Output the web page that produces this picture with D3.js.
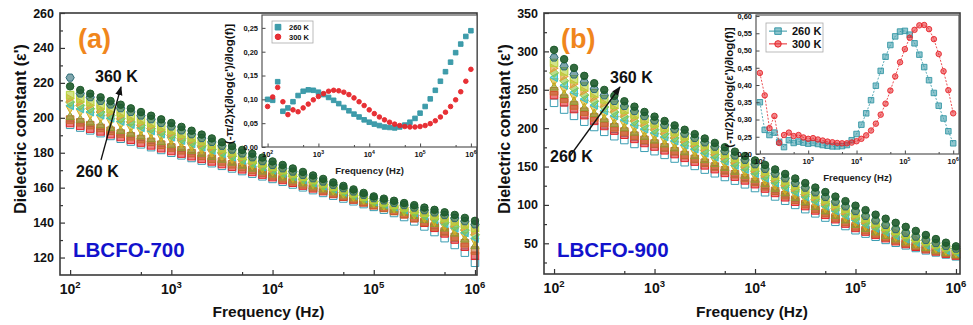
<!DOCTYPE html>
<html>
<head>
<meta charset="utf-8">
<script src="https://cdn.jsdelivr.net/npm/d3@7"></script>
<style>
body { margin: 0; background: #fff; }
svg text { font-family: "Liberation Sans", Arial, Helvetica, sans-serif; font-weight: bold; }
</style>
</head>
<body>
<div id="chart"></div>
<script>
// ---- data ----
const freq = [100, 126, 158, 200, 251, 316, 398, 501, 631, 794,
  1000, 1259, 1585, 1995, 2512, 3162, 3981, 5012, 6310, 7943,
  10000, 12589, 15849, 19953, 25119, 31623, 39811, 50119, 63096, 79433,
  100000, 125893, 158489, 199526, 251189, 316228, 398107, 501187, 630957, 794328,
  1000000];

const temps = ['260 K', '270 K', '280 K', '290 K', '300 K', '310 K', '320 K', '330 K', '340 K', '350 K', '360 K'];

// (a) LBCFO-700, dielectric constant
const a260 = [196, 194.4, 192.8, 191.2, 189.6, 188, 186.4, 184.8, 183.2, 181.6, 180, 178.5, 177, 175.5, 174, 172.5, 171, 169.5, 168, 166.5, 165, 163.4, 161.8, 160.2, 158.6, 157, 155.4, 153.8, 152.2, 150.6, 149, 147.4, 145.5, 143.2, 140.7, 137.8, 134.6, 131.1, 127.2, 122.8, 117];
const a270 = [197, 195.4, 193.8, 192.2, 190.6, 189, 187.4, 185.8, 184.2, 182.6, 181, 179.5, 178, 176.5, 175, 173.5, 172, 170.5, 169, 167.5, 166, 164.4, 162.8, 161.2, 159.6, 158, 156.4, 154.8, 153.2, 151.6, 150, 148.6, 146.8, 144.8, 142.5, 139.9, 137, 133.8, 130.3, 126.2, 121];
const a280 = [199, 197.4, 195.8, 194.2, 192.6, 191, 189.4, 187.8, 186.2, 184.6, 183, 181.4, 179.8, 178.2, 176.6, 175, 173.4, 171.8, 170.2, 168.6, 167, 165.3, 163.6, 161.9, 160.2, 158.5, 156.8, 155.1, 153.4, 151.7, 150, 148.4, 146.6, 144.8, 142.7, 140.4, 137.8, 134.9, 131.8, 128.2, 124];
const a290 = [201, 199.4, 197.8, 196.2, 194.6, 193, 191.4, 189.8, 188.2, 186.6, 185, 183.3, 181.6, 179.9, 178.2, 176.5, 174.8, 173.1, 171.4, 169.7, 168, 166.3, 164.6, 162.9, 161.2, 159.5, 157.8, 156.1, 154.4, 152.7, 151, 149.6, 147.9, 146.2, 144.3, 142.1, 139.7, 137.1, 134.2, 130.8, 127];
const a300 = [205, 203.2, 201.4, 199.6, 197.8, 196, 194.2, 192.4, 190.6, 188.8, 187, 185.2, 183.4, 181.6, 179.8, 178, 176.2, 174.4, 172.6, 170.8, 169, 167.2, 165.4, 163.6, 161.8, 160, 158.2, 156.4, 154.6, 152.8, 151, 149.5, 147.9, 146.2, 144.4, 142.4, 140.2, 137.8, 135.2, 132.3, 129];
const a310 = [207, 205.2, 203.4, 201.6, 199.8, 198, 196.2, 194.4, 192.6, 190.8, 189, 187.1, 185.2, 183.3, 181.4, 179.5, 177.6, 175.7, 173.8, 171.9, 170, 168.2, 166.4, 164.6, 162.8, 161, 159.2, 157.4, 155.6, 153.8, 152, 150.5, 149.1, 147.4, 145.7, 143.8, 141.7, 139.4, 136.9, 134.2, 131];
const a320 = [209, 207.1, 205.2, 203.3, 201.4, 199.5, 197.6, 195.7, 193.8, 191.9, 190, 188, 186, 184, 182, 180, 178, 176, 174, 172, 170, 168.2, 166.4, 164.6, 162.8, 161, 159.2, 157.4, 155.6, 153.8, 152, 150.5, 149, 147.4, 145.7, 144, 142.1, 140.2, 137.9, 135.7, 133];
const a330 = [211, 209, 207, 205, 203, 201, 199, 197, 195, 193, 191, 189, 187, 185, 183, 181, 179, 177, 175, 173, 171, 169.2, 167.4, 165.6, 163.8, 162, 160.2, 158.4, 156.6, 154.8, 153, 151.6, 150.1, 148.7, 147.1, 145.4, 143.6, 141.8, 139.7, 137.5, 135];
const a340 = [213, 211, 209, 207, 205, 203, 201, 199, 197, 195, 193, 190.9, 188.8, 186.7, 184.6, 182.5, 180.4, 178.3, 176.2, 174.1, 172, 170.1, 168.2, 166.3, 164.4, 162.5, 160.6, 158.7, 156.8, 154.9, 153, 151.6, 150.1, 148.7, 147.2, 145.6, 144.2, 142.6, 140.8, 138.9, 137];
const a350 = [223, 213.9, 211.8, 209.7, 207.6, 205.5, 203.4, 201.3, 199.2, 197.1, 195, 192.8, 190.6, 188.4, 186.2, 184, 181.8, 179.6, 177.4, 175.2, 173, 171.1, 169.2, 167.3, 165.4, 163.5, 161.6, 159.7, 157.8, 155.9, 154, 152.7, 151.3, 150, 148.6, 147.1, 145.8, 144.3, 142.6, 140.8, 139];
const a360 = [218, 215.9, 213.8, 211.7, 209.6, 207.5, 205.4, 203.3, 201.2, 199.1, 197, 194.8, 192.6, 190.4, 188.2, 186, 183.8, 181.6, 179.4, 177.2, 175, 173, 171, 169, 167, 165, 163, 161, 159, 157, 155, 153.7, 152.5, 151.2, 150, 148.6, 147.3, 145.9, 144.4, 142.7, 141];

// (b) LBCFO-900, dielectric constant
const b260 = [233, 224.2, 216, 208.4, 201.5, 195.2, 189.5, 184.5, 179.4, 174.4, 170, 165.2, 160.4, 155.6, 150.8, 146, 141.2, 136.4, 131.6, 126.8, 122, 116.5, 111, 105.5, 100, 94.5, 89, 83.5, 78, 72.5, 67, 62.6, 58.5, 54.4, 50.7, 47.3, 43.9, 40.8, 38.1, 35.4, 33];
const b270 = [243, 233.6, 224.9, 216.9, 209.5, 202.8, 196.8, 191.4, 186, 180.7, 176, 171.1, 166.2, 161.3, 156.4, 151.5, 146.6, 141.7, 136.8, 131.9, 127, 121.3, 115.6, 109.9, 104.2, 98.5, 92.8, 87.1, 81.4, 75.7, 70, 65.3, 61, 56.7, 52.7, 49.1, 45.5, 42.3, 39.4, 36.5, 34];
const b280 = [248, 238.5, 229.6, 221.5, 214, 207.2, 201.1, 195.6, 190.2, 184.8, 180, 175, 170, 165, 160, 155, 150, 145, 140, 135, 130, 124.2, 118.4, 112.6, 106.8, 101, 95.2, 89.4, 83.6, 77.8, 72, 67.2, 62.7, 58.3, 54.2, 50.5, 46.8, 43.5, 40.5, 37.6, 35];
const b290 = [254, 244.3, 235.4, 227.1, 219.5, 212.6, 206.4, 200.9, 195.3, 189.8, 185, 179.9, 174.8, 169.7, 164.6, 159.5, 154.4, 149.3, 144.2, 139.1, 134, 128.1, 122.2, 116.3, 110.4, 104.5, 98.6, 92.7, 86.8, 80.9, 75, 69.9, 65.2, 60.6, 56.3, 52.4, 48.5, 45, 41.8, 38.7, 36];
const b300 = [260, 250.1, 240.8, 232.3, 224.5, 217.4, 211, 205.3, 199.6, 194, 189, 183.8, 178.6, 173.4, 168.2, 163, 157.8, 152.6, 147.4, 142.2, 137, 131, 125, 119, 113, 107, 101, 95, 89, 83, 77, 71.8, 67, 62.2, 57.8, 53.8, 49.8, 46.2, 43, 39.8, 37];
const b310 = [266, 255.9, 246.6, 237.9, 230, 222.8, 216.3, 210.6, 204.8, 199, 194, 188.7, 183.4, 178.1, 172.8, 167.5, 162.2, 156.9, 151.6, 146.3, 141, 134.9, 128.8, 122.7, 116.6, 110.5, 104.4, 98.3, 92.2, 86.1, 80, 74.5, 69.5, 64.5, 59.8, 55.6, 51.4, 47.7, 44.3, 40.9, 38];
const b320 = [272, 261.6, 252, 243.1, 235, 227.6, 220.9, 215, 209.1, 203.2, 198, 192.6, 187.2, 181.8, 176.4, 171, 165.6, 160.2, 154.8, 149.4, 144, 137.9, 131.8, 125.7, 119.6, 113.5, 107.4, 101.3, 95.2, 89.1, 83, 77.4, 72.2, 67.1, 62.4, 58.1, 53.8, 49.9, 46.4, 43, 40];
const b330 = [278, 267.4, 257.5, 248.4, 240, 232.4, 225.6, 219.5, 213.4, 207.3, 202, 196.5, 191, 185.5, 180, 174.5, 169, 163.5, 158, 152.5, 147, 140.9, 134.8, 128.7, 122.6, 116.5, 110.4, 104.3, 98.2, 92.1, 86, 80.1, 74.7, 69.3, 64.4, 59.9, 55.4, 51.3, 47.7, 44.1, 41];
const b340 = [285, 273.9, 263.7, 254.2, 245.5, 237.6, 230.5, 224.2, 217.8, 211.5, 206, 200.4, 194.8, 189.2, 183.6, 178, 172.4, 166.8, 161.2, 155.6, 150, 143.9, 137.8, 131.7, 125.6, 119.5, 113.4, 107.3, 101.2, 95.1, 89, 82.9, 77.2, 71.6, 66.4, 61.7, 57, 52.8, 49, 45.3, 42];
const b350 = [292, 280.5, 269.9, 260, 251, 242.8, 235.4, 228.9, 222.3, 215.7, 210, 204.3, 198.6, 192.9, 187.2, 181.5, 175.8, 170.1, 164.4, 158.7, 153, 146.9, 140.8, 134.7, 128.6, 122.5, 116.4, 110.3, 104.2, 98.1, 92, 85.6, 79.7, 73.9, 68.5, 63.6, 58.7, 54.3, 50.3, 46.4, 43];
const b360 = [302, 289.8, 278.5, 268.1, 258.5, 249.8, 242, 235, 228, 221.1, 215, 209.3, 203.6, 197.9, 192.2, 186.5, 180.8, 175.1, 169.4, 163.7, 158, 152.1, 146.2, 140.3, 134.4, 128.5, 122.6, 116.7, 110.8, 104.9, 99, 93.2, 87.3, 82, 76.7, 71.4, 66.1, 60.8, 55.5, 50.8, 46];

// insets: (-pi/2) x dlog(eps')/dlog(f)
const insetA260 = [0.100, 0.098, 0.137, 0.075, 0.082, 0.095, 0.108, 0.117, 0.120, 0.119, 0.115, 0.110, 0.104, 0.098, 0.091, 0.083, 0.076, 0.069, 0.063, 0.057, 0.052, 0.048, 0.045, 0.042, 0.041, 0.040, 0.042, 0.046, 0.052, 0.060, 0.071, 0.085, 0.101, 0.119, 0.138, 0.158, 0.178, 0.198, 0.216, 0.232, 0.244];
const insetA300 = [0.085, 0.105, 0.125, 0.095, 0.068, 0.078, 0.074, 0.082, 0.090, 0.099, 0.106, 0.112, 0.117, 0.119, 0.118, 0.115, 0.110, 0.103, 0.095, 0.087, 0.078, 0.070, 0.063, 0.057, 0.052, 0.048, 0.045, 0.043, 0.042, 0.042, 0.043, 0.045, 0.049, 0.055, 0.063, 0.073, 0.085, 0.099, 0.116, 0.138, 0.163];
const insetB260 = [0.350, 0.270, 0.255, 0.262, 0.235, 0.220, 0.240, 0.232, 0.236, 0.233, 0.230, 0.232, 0.229, 0.226, 0.224, 0.222, 0.222, 0.223, 0.226, 0.240, 0.258, 0.285, 0.318, 0.356, 0.398, 0.441, 0.482, 0.516, 0.541, 0.555, 0.557, 0.546, 0.521, 0.488, 0.452, 0.414, 0.377, 0.340, 0.303, 0.266, 0.231];
const insetB300 = [0.435, 0.370, 0.275, 0.310, 0.232, 0.255, 0.262, 0.252, 0.255, 0.248, 0.244, 0.246, 0.242, 0.239, 0.236, 0.234, 0.232, 0.231, 0.231, 0.233, 0.237, 0.244, 0.254, 0.268, 0.288, 0.314, 0.346, 0.384, 0.425, 0.466, 0.504, 0.537, 0.560, 0.573, 0.574, 0.562, 0.533, 0.490, 0.440, 0.385, 0.318];

const decades = [1e2, 1e3, 1e4, 1e5, 1e6];
const minorX = [5e2, 5e3, 5e4, 5e5];
const ticksA = [120, 140, 160, 180, 200, 220, 240, 260];
const ticksB = [50, 100, 150, 200, 250, 300, 350];
const ticksInsetA = [0, 0.05, 0.10, 0.15, 0.20, 0.25];
const ticksInsetB = [0.20, 0.25, 0.30, 0.35, 0.40, 0.45, 0.50, 0.55, 0.60];
const insetTemps = ['260 K', '300 K'];

// ---- styling ----
const colors = ['#3a9db2', '#e2262a', '#c4682c', '#8f9c32', '#d6b01e', '#34c3d0', '#8cc63e', '#e69a38', '#b4d238', '#2c6b76', '#1d5a2a'];
const shapes = ['square', 'square', 'square', 'triUp', 'triDown', 'triLeft', 'diamond', 'triRight', 'square', 'hexagon', 'circle'];
const teal = '#3597a6', red = '#e6262b';

const svg = d3.select('#chart').append('svg').attr('width', 973).attr('height', 325);
svg.append('defs').append('marker')
  .attr('id', 'arrow').attr('viewBox', '0 0 10 10').attr('refX', 9).attr('refY', 5)
  .attr('markerWidth', 7).attr('markerHeight', 7).attr('orient', 'auto')
  .append('path').attr('d', 'M0,1L10,5L0,9Z').attr('fill', '#111');

function markerPath(kind, s) {
  const h = s / 2;
  switch (kind) {
    case 'square': return `M${-h},${-h}h${s}v${s}h${-s}Z`;
    case 'circle': return d3.symbol(d3.symbolCircle, Math.PI * h * h)();
    case 'triUp': return `M0,${-h * 1.1}L${h * 1.1},${h * 0.9}L${-h * 1.1},${h * 0.9}Z`;
    case 'triDown': return `M0,${h * 1.1}L${h * 1.1},${-h * 0.9}L${-h * 1.1},${-h * 0.9}Z`;
    case 'triLeft': return `M${-h * 1.1},0L${h * 0.9},${-h * 1.1}L${h * 0.9},${h * 1.1}Z`;
    case 'triRight': return `M${h * 1.1},0L${-h * 0.9},${-h * 1.1}L${-h * 0.9},${h * 1.1}Z`;
    case 'diamond': return `M0,${-h * 1.2}L${h * 1.2},0L0,${h * 1.2}L${-h * 1.2},0Z`;
    case 'hexagon': {
      const pts = d3.range(6).map(k => [h * 1.1 * Math.cos(Math.PI / 3 * k), h * 1.1 * Math.sin(Math.PI / 3 * k)]);
      return 'M' + pts.map(p => p.join(',')).join('L') + 'Z';
    }
  }
}

function decadeLabels(g, x, y0, size) {
  decades.forEach(d => {
    const t = g.append('text').attr('x', x(d)).attr('y', y0).attr('text-anchor', 'middle')
      .attr('font-size', size).attr('fill', '#111');
    t.append('tspan').text('10');
    t.append('tspan').attr('font-size', size * 0.68).attr('dy', -size * 0.42).text(Math.log10(d));
  });
}

function styleAxis(sel) {
  sel.select('.domain').remove();
  sel.selectAll('.tick line').attr('stroke', '#333').attr('stroke-width', 1.2);
  sel.selectAll('.tick text').attr('fill', '#111');
}

function mainPanel(p) {
  const x = d3.scaleLog().domain(p.xDomain).range([p.left, p.right]);
  const y = d3.scaleLinear().domain(p.yDomain).range([p.bottom, p.top]);
  const g = svg.append('g');

  p.series.forEach((vals, i) => {
    g.append('g').selectAll('path').data(vals).join('path')
      .attr('transform', (d, j) => `translate(${x(freq[j])},${y(d)})`)
      .attr('d', markerPath(shapes[i], 7.5))
      .attr('fill', i === 0 ? '#fff' : colors[i])
      .attr('fill-opacity', i === 0 ? 1 : (i === 10 ? 0.9 : 0.6))
      .attr('stroke', colors[i]).attr('stroke-width', 1);
  });

  g.append('g').attr('transform', `translate(0,${p.bottom})`)
    .call(d3.axisBottom(x).tickValues(decades).tickSize(-5).tickFormat(''))
    .call(styleAxis);
  g.append('g').attr('transform', `translate(0,${p.bottom})`)
    .call(d3.axisBottom(x).tickValues(minorX).tickSize(-3).tickFormat(''))
    .call(styleAxis);
  g.append('g').attr('transform', `translate(${p.left},0)`)
    .call(d3.axisLeft(y).tickValues(p.ticks).tickSize(-5).tickPadding(6))
    .call(styleAxis)
    .call(s => s.selectAll('.tick text').attr('font-size', 12.5).attr('font-family', null));
  g.append('g').attr('transform', `translate(${p.left},0)`)
    .call(d3.axisLeft(y).tickValues(p.minorY).tickSize(-3).tickFormat(''))
    .call(styleAxis);

  g.append('rect').attr('x', p.left).attr('y', p.top)
    .attr('width', p.right - p.left).attr('height', p.bottom - p.top)
    .attr('fill', 'none').attr('stroke', '#3a3a3a').attr('stroke-width', 1.6);

  decadeLabels(g, x, p.bottom + 19, 14);

  g.append('text').attr('x', (p.left + p.right) / 2).attr('y', 317)
    .attr('text-anchor', 'middle').attr('font-size', 15.5).attr('fill', '#111').text('Frequency (Hz)');
  g.append('text').attr('transform', `translate(${p.left - 34},129) rotate(-90)`)
    .attr('text-anchor', 'middle').attr('font-size', 16).attr('fill', '#111').text('Dielectric constant (ε\')');

  g.append('text').attr('x', p.tag[0]).attr('y', p.tag[1]).attr('font-size', 27)
    .attr('fill', '#f0861c').text(p.tagText);
  g.append('text').attr('x', p.sample[0]).attr('y', p.sample[1]).attr('font-size', 20.5)
    .attr('fill', '#1212cc').text(p.sampleText);
  g.append('text').attr('x', p.hi[0]).attr('y', p.hi[1]).attr('font-size', 16).attr('fill', '#111').text(temps[10]);
  g.append('text').attr('x', p.lo[0]).attr('y', p.lo[1]).attr('font-size', 16).attr('fill', '#111').text(temps[0]);
  g.append('line').attr('x1', p.arrow[0]).attr('y1', p.arrow[1]).attr('x2', p.arrow[2]).attr('y2', p.arrow[3])
    .attr('stroke', '#111').attr('stroke-width', 1.3).attr('marker-end', 'url(#arrow)');
}

function insetPanel(p) {
  const x = d3.scaleLog().domain(p.xDomain).range([p.left, p.right]);
  const y = d3.scaleLinear().domain(p.yDomain).range([p.bottom, p.top]);
  const g = svg.append('g');
  g.append('rect').attr('x', p.left).attr('y', p.top)
    .attr('width', p.right - p.left).attr('height', p.bottom - p.top).attr('fill', '#fff');

  const sets = [
    { vals: p.s260, color: teal, shape: 'square' },
    { vals: p.s300, color: red, shape: 'circle' }
  ];
  sets.forEach(s => {
    if (p.lines) {
      g.append('path').datum(s.vals)
        .attr('d', d3.line().x((d, j) => x(freq[j])).y(d => y(d)))
        .attr('fill', 'none').attr('stroke', s.color).attr('stroke-width', 0.8).attr('stroke-dasharray', '2,1.5');
    }
    g.append('g').selectAll('path').data(s.vals).join('path')
      .attr('transform', (d, j) => `translate(${x(freq[j])},${y(d)})`)
      .attr('d', markerPath(s.shape, p.msize))
      .attr('fill', s.color).attr('fill-opacity', p.lines ? 0.55 : 0.95)
      .attr('stroke', s.color).attr('stroke-width', 0.9);
  });

  g.append('g').attr('transform', `translate(0,${p.bottom})`)
    .call(d3.axisBottom(x).tickValues(decades).tickSize(-3.5).tickFormat(''))
    .call(styleAxis);
  g.append('g').attr('transform', `translate(0,${p.bottom})`)
    .call(d3.axisBottom(x).tickValues(minorX).tickSize(-2).tickFormat(''))
    .call(styleAxis);
  g.append('g').attr('transform', `translate(${p.left},0)`)
    .call(d3.axisLeft(y).tickValues(p.ticks).tickSize(-3.5).tickPadding(4)
      .tickFormat(d => d3.format('.2f')(d).replace('.', ',')))
    .call(styleAxis)
    .call(s => s.selectAll('.tick text').attr('font-size', 7.5).attr('font-family', null));
  g.selectAll('.tick line').attr('stroke-width', 0.9);

  g.append('rect').attr('x', p.left).attr('y', p.top)
    .attr('width', p.right - p.left).attr('height', p.bottom - p.top)
    .attr('fill', 'none').attr('stroke', '#555').attr('stroke-width', 1.2);

  decadeLabels(g, x, p.bottom + 10, 7.5);
  g.append('text').attr('x', (p.left + p.right) / 2).attr('y', p.bottom + 27)
    .attr('text-anchor', 'middle').attr('font-size', 9.5).attr('fill', '#222').text('Frequency (Hz)');
  g.append('text').attr('transform', `translate(${p.ytitleX},${(p.top + p.bottom) / 2 + 3}) rotate(-90)`)
    .attr('text-anchor', 'middle').attr('font-size', p.ytitleSize).attr('fill', '#111')
    .text('(-π/2)x[∂log(ε\')/∂log(f)]');

  // legend
  const L = p.legend;
  g.append('rect').attr('x', L.x).attr('y', L.y).attr('width', L.w).attr('height', L.h)
    .attr('fill', '#fff').attr('stroke', '#aaa').attr('stroke-width', 0.8);
  sets.forEach((s, k) => {
    const cy = L.y + L.h * (k === 0 ? 0.28 : 0.72);
    if (p.lines) {
      g.append('line').attr('x1', L.x + 3).attr('x2', L.x + L.mx * 2 - 3).attr('y1', cy).attr('y2', cy)
        .attr('stroke', s.color).attr('stroke-width', 1);
    }
    g.append('path').attr('transform', `translate(${L.x + L.mx},${cy})`)
      .attr('d', markerPath(s.shape, p.msize + 1))
      .attr('fill', s.color).attr('fill-opacity', p.lines ? 0.55 : 0.95).attr('stroke', s.color);
    g.append('text').attr('x', L.x + L.tx).attr('y', cy + L.fs * 0.36)
      .attr('font-size', L.fs).attr('fill', '#111').text(insetTemps[k]);
  });
}

mainPanel({
  left: 60, right: 477, top: 13, bottom: 275,
  xDomain: [Math.pow(10, 1.9), Math.pow(10, 6.02)], yDomain: [110, 260],
  ticks: ticksA, minorY: [130, 150, 170, 190, 210, 230, 250],
  series: [a260, a270, a280, a290, a300, a310, a320, a330, a340, a350, a360],
  tag: [78, 48], tagText: '(a)',
  sample: [73, 257], sampleText: 'LBCFO-700',
  hi: [95, 82], lo: [76, 177],
  arrow: [101, 160, 121, 87]
});

mainPanel({
  left: 544, right: 960, top: 13, bottom: 274,
  xDomain: [Math.pow(10, 1.9), Math.pow(10, 6.04)], yDomain: [10, 350],
  ticks: ticksB, minorY: [25, 75, 125, 175, 225, 275, 325],
  series: [b260, b270, b280, b290, b300, b310, b320, b330, b340, b350, b360],
  tag: [561, 48], tagText: '(b)',
  sample: [557, 257], sampleText: 'LBCFO-900',
  hi: [610, 83], lo: [550, 162],
  arrow: [570, 156, 620, 87]
});

insetPanel({
  left: 262, right: 477, top: 15, bottom: 147,
  xDomain: [Math.pow(10, 1.89), Math.pow(10, 6.12)], yDomain: [0, 0.277],
  ticks: ticksInsetA, s260: insetA260, s300: insetA300, lines: false, msize: 4.6,
  ytitleX: 233, ytitleSize: 11.5,
  legend: { x: 272, y: 21, w: 41, h: 22, mx: 6, tx: 17, fs: 7.5 }
});

insetPanel({
  left: 756, right: 959, top: 15, bottom: 154,
  xDomain: [Math.pow(10, 1.92), Math.pow(10, 6.12)], yDomain: [0.2, 0.603],
  ticks: ticksInsetB, s260: insetB260, s300: insetB300, lines: true, msize: 5.5,
  ytitleX: 733, ytitleSize: 11.5,
  legend: { x: 766, y: 23, w: 57, h: 29, mx: 12, tx: 26, fs: 11 }
});
</script>
</body>
</html>
